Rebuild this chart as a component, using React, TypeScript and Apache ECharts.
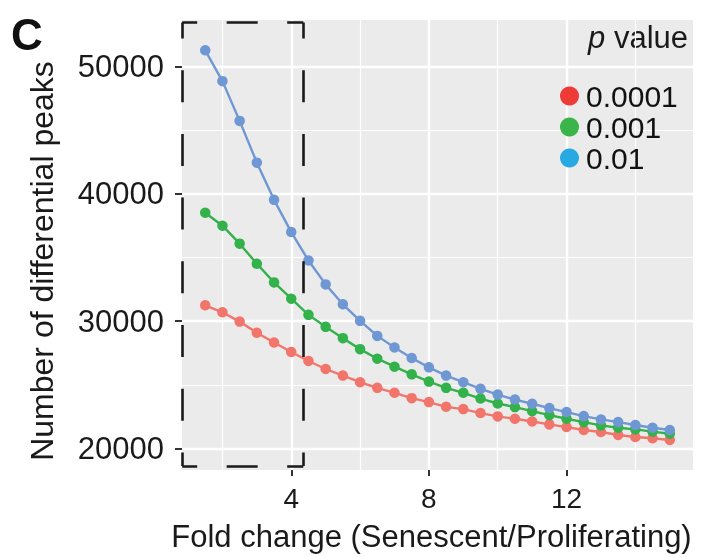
import React, { useEffect, useRef } from "react";
import * as echarts from "echarts";

const foldChange = [1.5, 2, 2.5, 3, 3.5, 4, 4.5, 5, 5.5, 6, 6.5, 7, 7.5, 8, 8.5, 9, 9.5, 10, 10.5, 11, 11.5, 12, 12.5, 13, 13.5, 14, 14.5, 15];

const p0001 = [31250, 30700, 29970, 29090, 28330, 27580, 26880, 26250, 25730, 25210, 24770, 24380, 23960, 23650, 23280, 23100, 22790, 22530, 22340, 22130, 21900, 21690, 21460, 21300, 21070, 20910, 20810, 20680];
const p001 = [38520, 37500, 36090, 34510, 33050, 31770, 30500, 29560, 28670, 27810, 27060, 26430, 25830, 25260, 24770, 24380, 23930, 23540, 23260, 22940, 22630, 22340, 22080, 21820, 21640, 21510, 21330, 21170];
const p01 = [51270, 48850, 45730, 42450, 39530, 37000, 34770, 32890, 31330, 30030, 28850, 27940, 27110, 26380, 25730, 25210, 24690, 24240, 23850, 23520, 23180, 22870, 22550, 22290, 22080, 21850, 21640, 21460];

const seriesNames = ["0.0001", "0.001", "0.01"];
const lineColors = ["#F2756C", "#33B14B", "#6F97D4"];
const legendColors = ["#EE3B35", "#3BB44A", "#27A9E1"];

const xMajor = [4, 8, 12];
const xMinor = [2, 6, 10, 14];
const yMajor = [20000, 30000, 40000, 50000];
const yMinor = [25000, 35000, 45000];

// highlighted region (fold change <= ~4.35)
const boxX = [0.83, 4.35];
const boxY = [18634, 53455];

const FONT = "'Liberation Sans', Arial, Helvetica, sans-serif";

export default function App() {
  const ref = useRef<HTMLDivElement>(null);
  useEffect(() => {
    if (!ref.current) return;
    const chart = echarts.init(ref.current, undefined, { renderer: "svg" });
    const toPairs = (vals: number[]) => foldChange.map((x, i) => [x, vals[i]]);
    const allSeriesVals = [p0001, p001, p01];

    const gridLines = [
      ...yMajor.map((v) => ({ yAxis: v, lineStyle: { width: 2.4 } })),
      ...yMinor.map((v) => ({ yAxis: v, lineStyle: { width: 1.2 } })),
      ...xMajor.map((v) => ({ xAxis: v, lineStyle: { width: 2.4 } })),
      ...xMinor.map((v) => ({ xAxis: v, lineStyle: { width: 1.2 } })),
    ];

    const hStyle = { color: "#1a1a1a", width: 2.6, type: [31, 29.5], dashOffset: 15.5 };
    const vStyle = { color: "#1a1a1a", width: 2.6, type: [32, 31.7], dashOffset: 16 };
    const boxLines = [
      [{ coord: [boxX[0], boxY[1]], lineStyle: hStyle }, { coord: [boxX[1], boxY[1]] }],
      [{ coord: [boxX[0], boxY[0]], lineStyle: hStyle }, { coord: [boxX[1], boxY[0]] }],
      [{ coord: [boxX[0], boxY[1]], lineStyle: vStyle }, { coord: [boxX[0], boxY[0]] }],
      [{ coord: [boxX[1], boxY[1]], lineStyle: vStyle }, { coord: [boxX[1], boxY[0]] }],
    ];

    chart.setOption({
      animation: false,
      textStyle: { fontFamily: FONT },
      grid: {
        left: 182,
        top: 20,
        width: 511,
        height: 452,
        show: true,
        backgroundColor: "#EBEBEB",
        borderWidth: 0,
      },
      xAxis: {
        type: "value",
        min: 0.825,
        max: 15.675,
        name: "Fold change (Senescent/Proliferating)",
        nameLocation: "middle",
        nameGap: 51,
        nameTextStyle: { fontSize: 31, color: "#1a1a1a", fontFamily: FONT, padding: [0, 12, 0, 0] },
        axisLine: { show: false },
        axisTick: { show: true, customValues: xMajor, length: 6, lineStyle: { color: "#333", width: 2 } },
        axisLabel: { customValues: xMajor, fontSize: 28, color: "#1a1a1a", margin: 14, fontFamily: FONT, formatter: (v: number) => String(v) },
        splitLine: { show: false },
      },
      yAxis: {
        type: "value",
        min: 18320,
        max: 53650,
        name: "Number of differential peaks",
        nameLocation: "middle",
        nameGap: 124,
        nameTextStyle: { fontSize: 32, color: "#1a1a1a", fontFamily: FONT, padding: [0, 32, 0, 0] },
        axisLine: { show: false },
        axisTick: { show: true, customValues: yMajor, length: 7, lineStyle: { color: "#333", width: 2 } },
        axisLabel: { customValues: yMajor, fontSize: 31, color: "#1a1a1a", margin: 18, fontFamily: FONT, formatter: (v: number) => String(v) },
        splitLine: { show: false },
      },
      legend: {
        orient: "vertical",
        left: 555,
        top: 75.5,
        icon: "circle",
        itemWidth: 19,
        itemHeight: 19,
        itemGap: 0,
        textStyle: { fontSize: 30, color: "#111", lineHeight: 31, fontFamily: FONT, padding: [0, 0, 0, 2] },
        data: seriesNames.map((n, i) => ({ name: n, itemStyle: { color: legendColors[i] } })),
      },
      graphic: [
        {
          type: "text",
          left: 11,
          top: 12,
          style: { text: "C", font: `bold 44px ${FONT}`, fill: "#111" },
        },
        {
          type: "text",
          right: 20,
          top: 22,
          style: {
            text: "{i|p} value",
            fill: "#1a1a1a",
            rich: {
              i: { fontStyle: "italic", fontSize: 31, fontFamily: FONT, fill: "#1a1a1a" },
            },
            font: `31px ${FONT}`,
          },
        },
      ],
      series: [
        {
          name: "_grid",
          type: "line",
          data: [],
          silent: true,
          z: 1,
          markLine: {
            silent: true,
            z: 1,
            symbol: ["none", "none"],
            label: { show: false },
            lineStyle: { color: "#FFFFFF", type: "solid" },
            data: gridLines,
          },
        },
        ...allSeriesVals.map((vals, i) => ({
          name: seriesNames[i],
          type: "line",
          data: toPairs(vals),
          symbol: "circle",
          symbolSize: 10.5,
          showSymbol: true,
          z: 3 + i,
          lineStyle: { color: lineColors[i], width: 2.4 },
          itemStyle: { color: lineColors[i] },
        })),
        {
          name: "_box",
          type: "line",
          data: [],
          silent: true,
          z: 10,
          markLine: {
            silent: true,
            z: 10,
            symbol: ["none", "none"],
            label: { show: false },
            data: boxLines,
          },
        },
      ],
    });
    return () => chart.dispose();
  }, []);
  return <div ref={ref} style={{ position: "fixed", left: 0, top: 0, width: 708, height: 557 }} />;
}
